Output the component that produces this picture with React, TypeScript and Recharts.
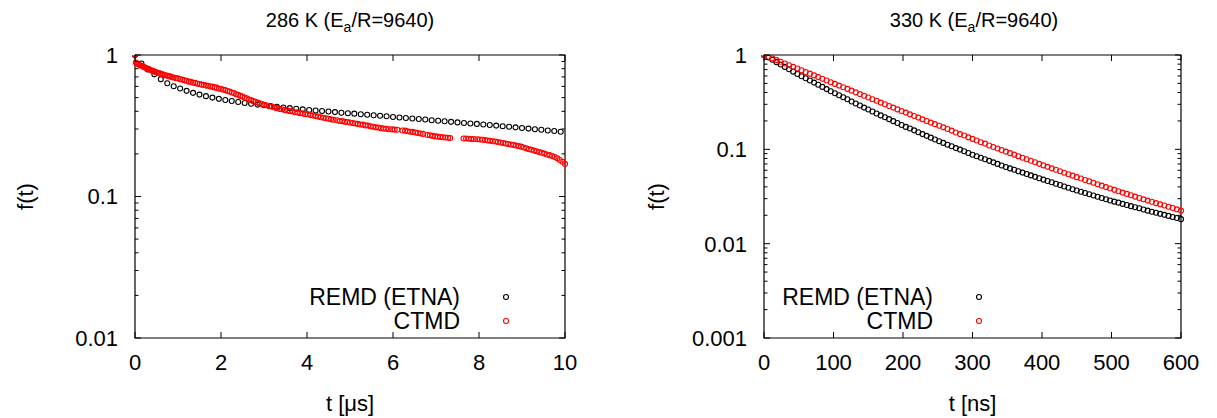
import React from 'react';
import { ScatterChart, Scatter, XAxis, YAxis, ReferenceArea, Legend } from 'recharts';

const FONT = '"Liberation Sans", Arial, Helvetica, sans-serif';

// ---- 286 K panel, t in microseconds ----
const remd286T = [
  0, 0.15, 0.3, 0.45, 0.6, 0.75, 0.9, 1.05, 1.2, 1.35,
  1.5, 1.65, 1.8, 1.95, 2.1, 2.25, 2.4, 2.55, 2.7, 2.85,
  3, 3.15, 3.3, 3.45, 3.6, 3.75, 3.9, 4.05, 4.2, 4.35,
  4.5, 4.65, 4.8, 4.95, 5.1, 5.25, 5.4, 5.55, 5.7, 5.85,
  6, 6.15, 6.3, 6.45, 6.6, 6.75, 6.9, 7.05, 7.2, 7.35,
  7.5, 7.65, 7.8, 7.95, 8.1, 8.25, 8.4, 8.55, 8.7, 8.85,
  9, 9.15, 9.3, 9.45, 9.6, 9.75, 9.9,
];
const remd286F = [
  1.0, 0.87, 0.79, 0.73, 0.675, 0.632, 0.602, 0.58, 0.558, 0.54,
  0.525, 0.512, 0.5, 0.49, 0.481, 0.473, 0.465, 0.458, 0.452, 0.446,
  0.441, 0.436, 0.431, 0.426, 0.421, 0.417, 0.413, 0.409, 0.405, 0.402,
  0.399, 0.395, 0.391, 0.388, 0.385, 0.381, 0.378, 0.375, 0.372, 0.369,
  0.365, 0.362, 0.359, 0.356, 0.353, 0.35, 0.346, 0.343, 0.34, 0.337,
  0.334, 0.331, 0.328, 0.326, 0.323, 0.32, 0.317, 0.314, 0.311, 0.308,
  0.305, 0.302, 0.299, 0.296, 0.293, 0.29, 0.287,
];

const ctmd286T = [
  0, 0.02, 0.05, 0.08, 0.11, 0.14, 0.17, 0.2, 0.23, 0.26,
  0.29, 0.32, 0.35, 0.38, 0.41, 0.44, 0.47, 0.5, 0.54, 0.58,
  0.62, 0.66, 0.7, 0.74, 0.78, 0.82, 0.86, 0.9, 0.95, 1.0,
  1.05, 1.1, 1.15, 1.2, 1.25, 1.3, 1.35, 1.4, 1.45, 1.5,
  1.55, 1.6, 1.65, 1.7, 1.75, 1.8, 1.85, 1.9, 1.95, 2.0,
  2.05, 2.1, 2.15, 2.2, 2.25, 2.3, 2.35, 2.4, 2.45, 2.5,
  2.55, 2.6, 2.65, 2.7, 2.75, 2.8, 2.85, 2.9, 2.95, 3.0,
  3.06, 3.12, 3.18, 3.24, 3.3, 3.36, 3.42, 3.48, 3.54, 3.6,
  3.66, 3.72, 3.78, 3.84, 3.9, 3.96, 4.02, 4.08, 4.14, 4.2,
  4.26, 4.32, 4.38, 4.44, 4.5, 4.56, 4.62, 4.7, 4.76, 4.82,
  4.88, 4.94, 5.0, 5.06, 5.12, 5.18, 5.24, 5.3, 5.36, 5.42,
  5.48, 5.54, 5.6, 5.66, 5.72, 5.78, 5.84, 5.9, 5.98, 6.04,
  6.1, 6.22, 6.28, 6.34, 6.4, 6.46, 6.52, 6.58, 6.64, 6.7,
  6.8, 6.86, 6.92, 6.98, 7.04, 7.1, 7.16, 7.22, 7.28, 7.33,
  7.64, 7.7, 7.76, 7.82, 7.88, 7.96, 8.02, 8.08, 8.14, 8.2,
  8.26, 8.32, 8.38, 8.44, 8.5, 8.56, 8.62, 8.68, 8.74, 8.8,
  8.86, 8.92, 8.98, 9.04, 9.1, 9.16, 9.22, 9.28, 9.34, 9.4,
  9.46, 9.52, 9.58, 9.64, 9.7, 9.76, 9.82, 9.88, 9.94, 10,
];
const ctmd286F = [
  1.0, 0.885, 0.87, 0.858, 0.85, 0.84, 0.833, 0.826, 0.816, 0.81,
  0.8, 0.797, 0.786, 0.78, 0.772, 0.768, 0.758, 0.756, 0.745, 0.742,
  0.732, 0.728, 0.72, 0.716, 0.707, 0.706, 0.697, 0.694, 0.686, 0.684,
  0.674, 0.67, 0.662, 0.658, 0.648, 0.646, 0.636, 0.635, 0.626, 0.624,
  0.617, 0.616, 0.608, 0.606, 0.598, 0.598, 0.59, 0.588, 0.578, 0.578,
  0.568, 0.565, 0.556, 0.552, 0.543, 0.539, 0.528, 0.524, 0.514, 0.509,
  0.499, 0.494, 0.485, 0.48, 0.472, 0.466, 0.461, 0.455, 0.451, 0.445,
  0.441, 0.434, 0.432, 0.425, 0.422, 0.416, 0.414, 0.408, 0.406, 0.401,
  0.4, 0.394, 0.393, 0.388, 0.387, 0.382, 0.381, 0.376, 0.374, 0.37,
  0.367, 0.363, 0.36, 0.357, 0.354, 0.351, 0.348, 0.346, 0.342, 0.341,
  0.337, 0.336, 0.333, 0.331, 0.328, 0.326, 0.323, 0.322, 0.318, 0.317,
  0.313, 0.311, 0.308, 0.307, 0.304, 0.302, 0.301, 0.299, 0.298, 0.297,
  0.296, 0.293, 0.292, 0.289, 0.287, 0.286, 0.283, 0.281, 0.279, 0.277,
  0.272, 0.271, 0.268, 0.266, 0.265, 0.263, 0.262, 0.261, 0.26, 0.259,
  0.257, 0.257, 0.256, 0.255, 0.255, 0.254, 0.253, 0.252, 0.251, 0.249,
  0.248, 0.246, 0.245, 0.243, 0.241, 0.239, 0.237, 0.235, 0.233, 0.231,
  0.229, 0.227, 0.225, 0.222, 0.219, 0.216, 0.214, 0.211, 0.209, 0.206,
  0.204, 0.201, 0.198, 0.196, 0.193, 0.19, 0.186, 0.181, 0.176, 0.17,
];

// ---- 330 K panel, t in ns ----
const t330 = [
  0, 6, 12, 18, 24, 30, 36, 42, 48, 54,
  60, 66, 72, 78, 84, 90, 96, 102, 108, 114,
  120, 126, 132, 138, 144, 150, 156, 162, 168, 174,
  180, 186, 192, 198, 204, 210, 216, 222, 228, 234,
  240, 246, 252, 258, 264, 270, 276, 282, 288, 294,
  300, 306, 312, 318, 324, 330, 336, 342, 348, 354,
  360, 366, 372, 378, 384, 390, 396, 402, 408, 414,
  420, 426, 432, 438, 444, 450, 456, 462, 468, 474,
  480, 486, 492, 498, 504, 510, 516, 522, 528, 534,
  540, 546, 552, 558, 564, 570, 576, 582, 588, 594, 600,
];
const remd330F = [
  1.0, 0.944, 0.89, 0.84, 0.793, 0.748, 0.706, 0.666, 0.629, 0.596,
  0.566, 0.537, 0.51, 0.484, 0.459, 0.435, 0.413, 0.393, 0.374, 0.356,
  0.339, 0.322, 0.306, 0.292, 0.277, 0.264, 0.252, 0.24, 0.229, 0.219,
  0.209, 0.199, 0.19, 0.181, 0.173, 0.166, 0.159, 0.152, 0.145, 0.139,
  0.133, 0.127, 0.122, 0.117, 0.112, 0.108, 0.103, 0.0993, 0.0953, 0.0914,
  0.0877, 0.0845, 0.0814, 0.0784, 0.0755, 0.0728, 0.0701, 0.0675, 0.065, 0.0628,
  0.0607, 0.0586, 0.0567, 0.0547, 0.0529, 0.0511, 0.0493, 0.0477, 0.0462, 0.0447,
  0.0432, 0.0418, 0.0404, 0.0391, 0.0378, 0.0366, 0.0355, 0.0344, 0.0334, 0.0324,
  0.0314, 0.0305, 0.0296, 0.0287, 0.0279, 0.0272, 0.0264, 0.0257, 0.025, 0.0243,
  0.0237, 0.023, 0.0224, 0.0218, 0.0213, 0.0207, 0.0202, 0.0197, 0.0192, 0.0187, 0.0182,
];
const ctmd330F = [
  1.0, 0.959, 0.92, 0.883, 0.847, 0.813, 0.78, 0.748, 0.718, 0.689,
  0.661, 0.634, 0.608, 0.583, 0.56, 0.537, 0.515, 0.494, 0.474, 0.455,
  0.437, 0.419, 0.402, 0.385, 0.37, 0.355, 0.34, 0.327, 0.313, 0.301,
  0.288, 0.277, 0.265, 0.255, 0.245, 0.235, 0.226, 0.217, 0.208, 0.2,
  0.192, 0.185, 0.178, 0.171, 0.164, 0.158, 0.151, 0.145, 0.14, 0.134,
  0.129, 0.124, 0.119, 0.115, 0.11, 0.106, 0.102, 0.0983, 0.0946, 0.0911,
  0.0878, 0.0846, 0.0815, 0.0785, 0.0756, 0.0729, 0.0702, 0.0676, 0.0652, 0.0629,
  0.0607, 0.0586, 0.0565, 0.0545, 0.0526, 0.0507, 0.049, 0.0473, 0.0457, 0.0442,
  0.0427, 0.0412, 0.0398, 0.0385, 0.0372, 0.036, 0.0348, 0.0337, 0.0326, 0.0315,
  0.0305, 0.0295, 0.0286, 0.0278, 0.0269, 0.0261, 0.0254, 0.0246, 0.0239, 0.0231, 0.0224,
];

const xTicks286 = [0, 2, 4, 6, 8, 10];
const xTicks330 = [0, 100, 200, 300, 400, 500, 600];
const yMajors286 = [0.01, 0.1, 1];
const yMajors330 = [0.001, 0.01, 0.1, 1];

const seriesNames = ['REMD (ETNA)', 'CTMD'];
const seriesColors = ['#000000', '#ff0000'];

const zip = (ts: number[], fs: number[]) => ts.map((t, i) => ({ t, f: fs[i] }));

// log axis: majors plus 2..9 minors in each decade
const logTicks = (majors: number[]) => {
  const out: number[] = [];
  majors.forEach((m, i) => {
    out.push(m);
    if (i < majors.length - 1) for (let k = 2; k <= 9; k++) out.push(+(m * k).toPrecision(3));
  });
  return out;
};

type Plot = { left: number; right: number; top: number; bottom: number };

const YTick = (props: any) => {
  const { y, payload, plot, majors } = props;
  const major = majors.some((m: number) => Math.abs(m - payload.value) < m * 1e-6);
  const len = major ? 6 : 3.5;
  return (
    <g>
      <line x1={plot.left} x2={plot.left + len} y1={y} y2={y} stroke="#000" strokeWidth={1} />
      <line x1={plot.right - len} x2={plot.right} y1={y} y2={y} stroke="#000" strokeWidth={1} />
      {major && (
        <text x={plot.left - 17} y={y} dy="0.36em" textAnchor="end" fontSize={22} fill="#000" fontFamily={FONT}>
          {String(payload.value)}
        </text>
      )}
    </g>
  );
};

const XTick = (props: any) => {
  const { x, payload, plot } = props;
  return (
    <g>
      <line x1={x} x2={x} y1={plot.bottom} y2={plot.bottom - 6} stroke="#000" strokeWidth={1} />
      <line x1={x} x2={x} y1={plot.top} y2={plot.top + 6} stroke="#000" strokeWidth={1} />
      <text x={x} y={plot.bottom + 32} textAnchor="middle" fontSize={22} fill="#000" fontFamily={FONT}>
        {payload.value}
      </text>
    </g>
  );
};

const XLabel = ({ text, cx }: any) => (
  <text x={cx} y={411} textAnchor="middle" fontSize={22} fill="#000" fontFamily={FONT}>
    {text}
  </text>
);

const YLabel = ({ cx, cy }: any) => (
  <text x={cx} y={cy} transform={`rotate(-90 ${cx} ${cy})`} textAnchor="middle" dominantBaseline="central"
    fontSize={22} fill="#000" fontFamily={FONT}>
    f(t)
  </text>
);

const ring = (color: string) => (p: any) => (
  <circle cx={p.cx} cy={p.cy} r={2.5} fill="none" stroke={color} strokeWidth={1.1} />
);

const LegendBox = () => (
  <svg width={240} height={54}>
    {seriesNames.map((name, i) => (
      <g key={name}>
        <text x={160} y={15 + i * 24} dy="0.36em" textAnchor="end" fontSize={23} fill="#000" fontFamily={FONT}>
          {name}
        </text>
        <circle cx={206} cy={15 + i * 24} r={2.5} fill="none" stroke={seriesColors[i]} strokeWidth={1.1} />
      </g>
    ))}
  </svg>
);

type PanelProps = {
  left: number;
  width: number;
  plot: Plot;
  xDomain: [number, number];
  xTicks: number[];
  yMajors: number[];
  remd: { t: number; f: number }[];
  ctmd: { t: number; f: number }[];
  xLabel: string;
  yLabelX: number;
  legendLeft: number;
};

const Panel = ({ left, width, plot, xDomain, xTicks, yMajors, remd, ctmd, xLabel, yLabelX, legendLeft }: PanelProps) => {
  const yDomain: [number, number] = [yMajors[0], yMajors[yMajors.length - 1]];
  return (
    <div style={{ position: 'absolute', left, top: 0 }}>
      <ScatterChart
        width={width}
        height={418}
        margin={{ top: plot.top, right: width - plot.right, bottom: 40, left: plot.left - 60 }}
      >
        <XAxis
          dataKey="t"
          type="number"
          domain={xDomain}
          ticks={xTicks}
          interval={0}
          height={418 - 40 - plot.bottom}
          axisLine={false}
          tickLine={false}
          tick={<XTick plot={plot} />}
          label={<XLabel text={xLabel} cx={(plot.left + plot.right) / 2} />}
        />
        <YAxis
          dataKey="f"
          type="number"
          scale="log"
          domain={yDomain}
          allowDataOverflow
          ticks={logTicks(yMajors)}
          interval={0}
          width={60}
          axisLine={false}
          tickLine={false}
          tick={<YTick plot={plot} majors={yMajors} />}
          label={<YLabel cx={yLabelX} cy={(plot.top + plot.bottom) / 2} />}
        />
        <ReferenceArea
          x1={xDomain[0]}
          x2={xDomain[1]}
          y1={yDomain[0]}
          y2={yDomain[1]}
          fill="none"
          stroke="#000"
          strokeWidth={1.2}
          ifOverflow="visible"
        />
        <Scatter name={seriesNames[0]} data={remd} fill={seriesColors[0]} shape={ring(seriesColors[0])} isAnimationActive={false} />
        <Scatter name={seriesNames[1]} data={ctmd} fill={seriesColors[1]} shape={ring(seriesColors[1])} isAnimationActive={false} />
        <Legend
          layout="horizontal"
          verticalAlign="middle"
          align="center"
          wrapperStyle={{ left: legendLeft, top: 282, width: 240, height: 54 }}
          content={<LegendBox />}
        />
      </ScatterChart>
    </div>
  );
};

const Title = ({ cx, temp }: { cx: number; temp: string }) => (
  <text x={cx} y={27} textAnchor="middle" fontSize={20} fill="#000" fontFamily={FONT}>
    {temp} K (E
    <tspan dy={5} fontSize={14}>a</tspan>
    <tspan dy={-5}>/R=9640)</tspan>
  </text>
);

export default function App() {
  return (
    <div style={{ position: 'absolute', left: 0, top: 0, width: 1217, height: 418, background: '#fff', fontFamily: FONT }}>
      <Panel
        left={0}
        width={600}
        plot={{ left: 135, right: 565, top: 55, bottom: 338 }}
        xDomain={[0, 10]}
        xTicks={xTicks286}
        yMajors={yMajors286}
        remd={zip(remd286T, remd286F)}
        ctmd={zip(ctmd286T, ctmd286F)}
        xLabel="t [μs]"
        yLabelX={25}
        legendLeft={300}
      />
      <Panel
        left={600}
        width={617}
        plot={{ left: 164, right: 581, top: 55, bottom: 338 }}
        xDomain={[0, 600]}
        xTicks={xTicks330}
        yMajors={yMajors330}
        remd={zip(t330, remd330F)}
        ctmd={zip(t330, ctmd330F)}
        xLabel="t [ns]"
        yLabelX={56}
        legendLeft={173}
      />
      <svg width={1217} height={418} style={{ position: 'absolute', left: 0, top: 0, pointerEvents: 'none' }}>
        <Title cx={350} temp="286" />
        <Title cx={974} temp="330" />
      </svg>
    </div>
  );
}
